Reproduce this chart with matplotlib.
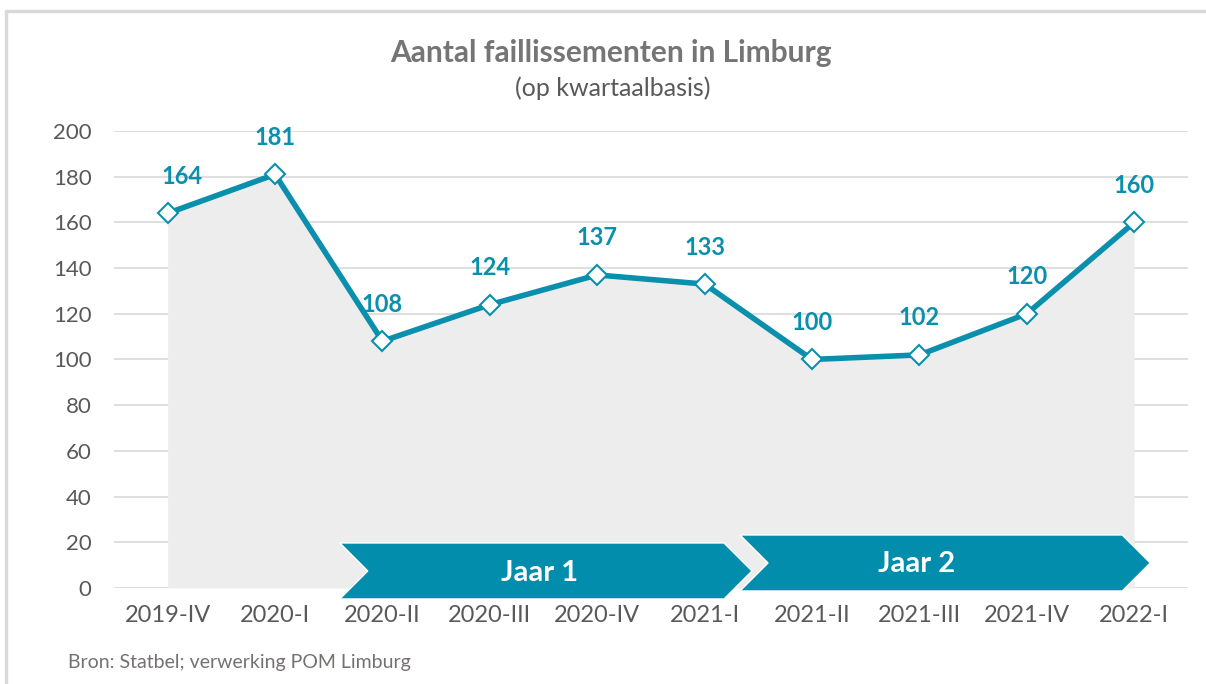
# Aantal faillissementen in Limburg (op kwartaalbasis)
import matplotlib
matplotlib.use("Agg")
import matplotlib.pyplot as plt
from matplotlib.patches import Polygon
from matplotlib.lines import Line2D
import numpy as np

quarters = ["2019-IV", "2020-I", "2020-II", "2020-III", "2020-IV",
            "2021-I", "2021-II", "2021-III", "2021-IV", "2022-I"]
faillissementen = [164, 181, 108, 124, 137, 133, 100, 102, 120, 160]
periods = ["Jaar 1", "Jaar 2"]

teal = "#0A8FAD"
band = "#038DAC"
grey_txt = "#595959"

plt.rcParams["font.family"] = ["Lato", "DejaVu Sans"]

fig = plt.figure(figsize=(12.06, 6.84), dpi=100)
ax = fig.add_axes([0.0945, 0.1404, 0.8905, 0.6681])

x = np.arange(len(quarters))
ax.fill_between(x, faillissementen, 0, color="#EDEDED", lw=0, zorder=1)
ax.plot(x, faillissementen, color=teal, lw=4, zorder=3,
        marker="D", markersize=10, markerfacecolor="white",
        markeredgecolor=teal, markeredgewidth=1.5)

for i, v in enumerate(faillissementen):
    dx = 14 if i == 0 else 0
    ax.annotate(str(v), (i, v), xytext=(dx, 37), textcoords="offset pixels",
                ha="center", va="center", fontsize=17, fontweight="bold",
                color=teal, zorder=4)

ax.set_xlim(-0.5, len(quarters) - 0.5)
ax.set_ylim(0, 200)
ax.set_yticks(range(0, 201, 20))
ax.set_xticks(x)
ax.set_xticklabels(quarters)
ax.grid(axis="y", color="#D9D9D9", lw=1.2, zorder=0)
ax.set_axisbelow(True)
for s in ax.spines.values():
    s.set_visible(False)
ax.tick_params(length=0, labelsize=17, colors=grey_txt)
ax.tick_params(axis="y", labelsize=16, pad=16)
ax.tick_params(axis="x", pad=12)

# chevrons for the two years (pixel -> data coords)
def px2data(px, py):
    return ((px - 168) / 107.33, (588 - py) / 2.285)

def chevron(x0, x1, y0, y1, d):
    pts = [(x0, y0), (x1 - d, y0), (x1, (y0 + y1) / 2), (x1 - d, y1),
           (x0, y1), (x0 + d, (y0 + y1) / 2)]
    return [px2data(*p) for p in pts]

chev = [(340, 752, 543, 599), (740, 1150, 535, 591)]
label_pos = [(540, 573), (917, 564)]
for (x0, x1, y0, y1), (tx, ty), lab in zip(chev, label_pos, periods):
    ax.add_patch(Polygon(chevron(x0, x1, y0, y1, 28), closed=True,
                         facecolor=band, edgecolor="white", lw=1,
                         clip_on=False, zorder=5))
    cx, cy = px2data(tx, ty)
    ax.text(cx, cy, lab, ha="center", va="center", color="white",
            fontsize=21, fontweight="bold", zorder=6)

fig.text(0.507, 0.923, "Aantal faillissementen in Limburg", ha="center",
         va="center", fontsize=21.5, fontweight="bold", color="#757575")
fig.text(0.508, 0.871, "(op kwartaalbasis)", ha="center", va="center",
         fontsize=18, color=grey_txt)
fig.text(0.056, 0.031, "Bron: Statbel; verwerking POM Limburg", ha="left",
         va="center", fontsize=14, color="#767171")

# chart border (top and left visible)
fig.add_artist(Line2D([6 / 1206, 6 / 1206, 1], [0, 1 - 11 / 684, 1 - 11 / 684],
                      color="#D9D9D9", lw=2.5))

fig.savefig("out.png", dpi=100)
